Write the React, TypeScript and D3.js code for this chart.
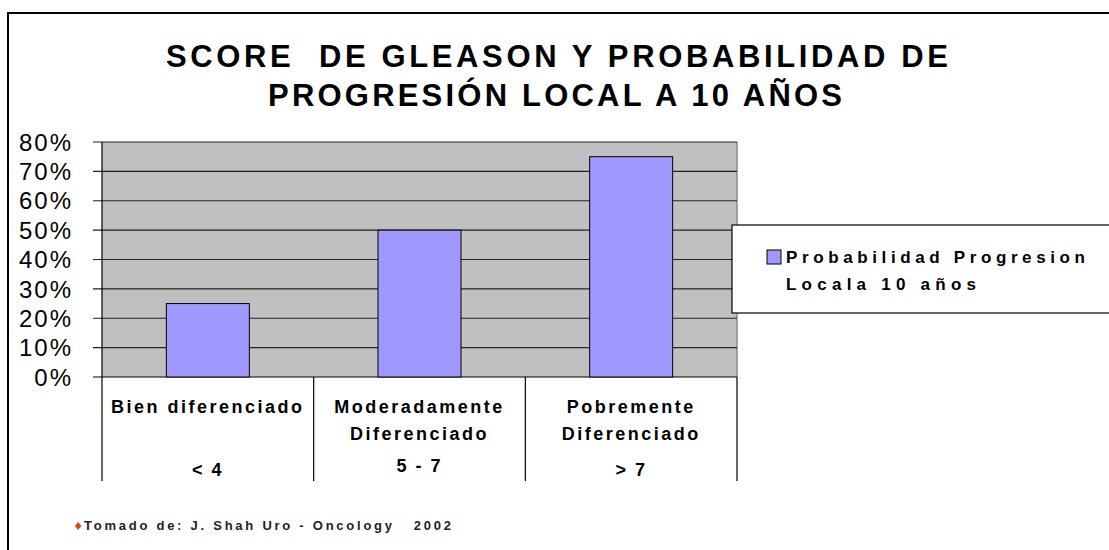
import React from "react";
import * as d3 from "d3";

// Data
const categories = ["Bien diferenciado", "Moderadamente Diferenciado", "Pobremente Diferenciado"];
const categoryLines = [["Bien diferenciado"], ["Moderadamente", "Diferenciado"], ["Pobremente", "Diferenciado"]];
const scoreLabels = ["< 4", "5 - 7", "> 7"];
const values = [0.25, 0.5, 0.75];
const yTicks = [0, 0.1, 0.2, 0.3, 0.4, 0.5, 0.6, 0.7, 0.8];
const seriesName = ["Probabilidad Progresion", "Locala 10 años"];
const titleLines = ["SCORE  DE GLEASON Y PROBABILIDAD DE", "PROGRESIÓN LOCAL A 10 AÑOS"];
const footnote = "Tomado de: J. Shah Uro - Oncology   2002";

const W = 1109;
const H = 550;
const FONT = "'Liberation Sans', Arial, sans-serif";

const App: React.FC = () => {
  // Plot area
  const plot = { left: 102, right: 737, top: 142, bottom: 377 };

  const x = d3
    .scaleBand<string>()
    .domain(categories)
    .range([plot.left, plot.right])
    .paddingInner(0.608)
    .paddingOuter(0.304);
  const step = x.step();
  const y = d3.scaleLinear().domain([0, 0.8]).range([plot.bottom, plot.top]);
  const fmt = d3.format(".0%");

  // Category boundaries (separators below the axis)
  const bounds = categories.map((_, i) => plot.left + i * step).concat([plot.right]);

  return (
    <svg
      width={W}
      height={H}
      style={{ position: "absolute", left: 0, top: 0, background: "#fff" }}
      fontFamily={FONT}
    >
      {/* outer frame */}
      <path d={`M8,${H} L8,13 L${W},13`} fill="none" stroke="#000" strokeWidth={2} />

      {/* title */}
      <text x={166} y={67} fontSize={31} fontWeight="bold" textLength={782} lengthAdjust="spacing" style={{ whiteSpace: "pre" }}>
        {titleLines[0]}
      </text>
      <text x={268} y={106} fontSize={31} fontWeight="bold" textLength={574} lengthAdjust="spacing">
        {titleLines[1]}
      </text>

      {/* plot background */}
      <rect x={plot.left} y={plot.top} width={plot.right - plot.left} height={plot.bottom - plot.top} fill="#C0C0C0" />
      <line x1={plot.right} x2={plot.right} y1={plot.top} y2={plot.bottom} stroke="#8a8a8a" strokeWidth={1.5} />

      {/* gridlines + y ticks */}
      {yTicks.map((t) => (
        <g key={t}>
          <line x1={93} x2={plot.right} y1={y(t)} y2={y(t)} stroke={t === 0 ? "#000" : "#222"} strokeWidth={1.2} />
          <text
            x={73}
            y={y(t)}
            dy="0.36em"
            textAnchor="end"
            fontSize={24}
            letterSpacing={2}
            fill="#000"
          >
            {fmt(t)}
          </text>
        </g>
      ))}
      <line x1={plot.left} x2={plot.left} y1={plot.top} y2={plot.bottom} stroke="#000" strokeWidth={1.2} />

      {/* bars */}
      {categories.map((c, i) => (
        <rect
          key={c}
          x={x(c)!}
          y={y(values[i])}
          width={x.bandwidth()}
          height={y(0) - y(values[i])}
          fill="#9F99FF"
          stroke="#000"
          strokeWidth={1}
        />
      ))}

      {/* category separators */}
      {bounds.map((b, i) => (
        <line key={i} x1={b} x2={b} y1={plot.bottom} y2={481} stroke="#000" strokeWidth={1.2} />
      ))}

      {/* category labels */}
      {categories.map((c, i) => {
        const cx = x(c)! + x.bandwidth() / 2;
        return (
          <g key={c} fontWeight="bold" fontSize={18} textAnchor="middle" fill="#000">
            {categoryLines[i].map((line, j) => (
              <text key={j} x={cx} y={413 + j * 27} letterSpacing={2.5}>
                {line}
              </text>
            ))}
            <text x={cx} y={i === 1 ? 472 : 476} letterSpacing={2}>
              {scoreLabels[i]}
            </text>
          </g>
        );
      })}

      {/* legend */}
      <rect x={732} y={225} width={W} height={88} fill="#fff" stroke="#000" strokeWidth={1.2} />
      <rect x={767} y={250} width={14} height={14} fill="#9F99FF" stroke="#000" strokeWidth={1} />
      <text x={786} y={263} fontSize={17} fontWeight="bold" textLength={299} lengthAdjust="spacing">
        {seriesName[0]}
      </text>
      <text x={786} y={290} fontSize={17} fontWeight="bold" textLength={190} lengthAdjust="spacing">
        {seriesName[1]}
      </text>

      {/* footnote */}
      <path d="M78,522 L81.5,526 L78,530 L75,526 Z" fill="#E8400C" />
      <text x={84} y={530} fontSize={13} fontWeight="bold" fill="#222" textLength={367} lengthAdjust="spacing" style={{ whiteSpace: "pre" }}>
        {footnote}
      </text>
    </svg>
  );
};

export default App;
